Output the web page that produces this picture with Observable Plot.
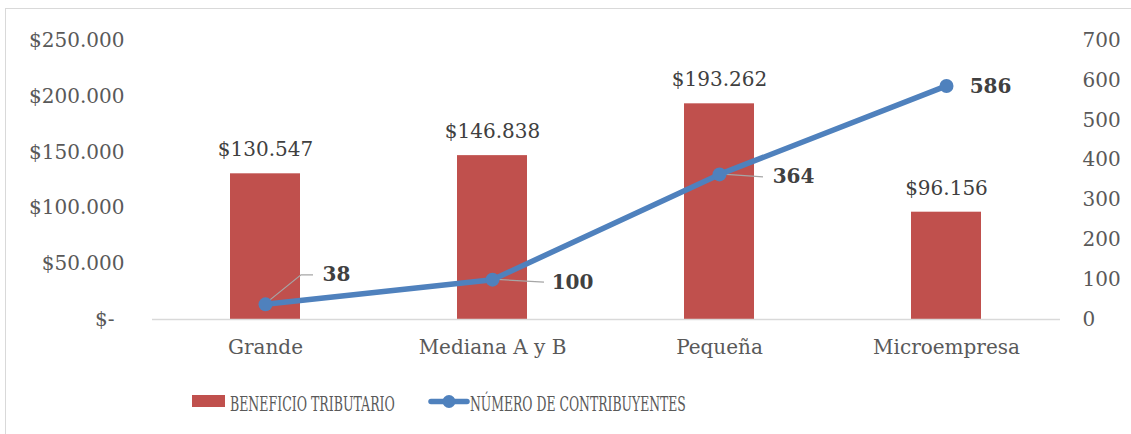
<!DOCTYPE html>
<html><head><meta charset="utf-8">
<script src="https://cdn.jsdelivr.net/npm/d3@7"></script>
<script src="https://cdn.jsdelivr.net/npm/@observablehq/plot@0.6"></script>
<style>
body{margin:0;background:#fff;font-family:"DejaVu Serif",serif;}
#wrap{position:relative;width:1131px;height:434px;overflow:hidden;background:#fff;}
#frame{position:absolute;left:5px;top:8px;width:1140px;height:440px;border:1.5px solid #d9d9d9;}
#chart{position:absolute;left:0;top:0;}
#legend{position:absolute;left:0;top:385px;}
</style></head><body>
<div id="wrap"><div id="frame"></div><div id="chart"></div><div id="legend"></div></div>
<script>
const categories = ["Grande", "Mediana A y B", "Pequeña", "Microempresa"];
const beneficio = [130547, 146838, 193262, 96156];
const contribuyentes = [38, 100, 364, 586];
const leftTicks = [0, 50000, 100000, 150000, 200000, 250000];
const rightTicks = [0, 100, 200, 300, 400, 500, 600, 700];
const seriesNames = ["BENEFICIO TRIBUTARIO", "NÚMERO DE CONTRIBUYENTES"];

const yMax = 250000, rMax = 700;
const toLeft = v => v * yMax / rMax;
const rows = categories.map((c, i) => ({cat: c, ben: beneficio[i], num: contribuyentes[i], numY: toLeft(contribuyentes[i])}));
const fmtMoney = v => v === 0 ? "$-\u2002" : "$" + d3.format(",")(v).replace(/,/g, ".");

const BAR = "#C0504D", LINE = "#4F81BD", LABEL = "#404040", AXIS = "#595959";

// label placement (pixel offsets from each point), styling only
const labelOffsets = [[71, -30], [80, 3], [74, 2], [44, 1]];
const leaderPaths = [[[36, -29], [48, -29]], [[52, 3]], [[44, 3]], []];

const leaderMark = (index, scales) => {
  const g = d3.create("svg:g");
  const sx = scales.x, sy = scales.y;
  const half = sx.bandwidth ? sx.bandwidth() / 2 : 0;
  rows.forEach((d, i) => {
    const px = sx(d.cat) + half, py = sy(d.numY);
    const pts = [[px, py], ...leaderPaths[i].map(([dx, dy]) => [px + dx, py + dy])];
    if (pts.length < 2) return;
    g.append("path").attr("d", d3.line()(pts)).attr("fill", "none")
      .attr("stroke", "#a6a6a6").attr("stroke-width", 1.2);
  });
  return g.node();
};

const lineLabels = rows.map((d, i) => Plot.text([d], {
  x: "cat", y: "numY", text: d => String(d.num),
  dx: labelOffsets[i][0], dy: labelOffsets[i][1],
  fill: LABEL, fontWeight: "bold", fontSize: 20
}));

const chart = Plot.plot({
  width: 1131, height: 370,
  marginLeft: 152, marginRight: 71, marginTop: 40, marginBottom: 51,
  style: {fontFamily: "'DejaVu Serif', serif", fontSize: "20px", color: AXIS, background: "transparent"},
  x: {domain: categories, paddingInner: 0.69, paddingOuter: 0.345, label: null},
  y: {domain: [0, yMax], label: null},
  marks: [
    Plot.barY(rows, {x: "cat", y: "ben", fill: BAR}),
    Plot.ruleY([0], {stroke: "#d9d9d9", strokeWidth: 1.5}),
    Plot.axisY(leftTicks, {anchor: "left", tickSize: 0, tickPadding: 28, tickFormat: fmtMoney, label: null}),
    Plot.axisY(rightTicks.map(toLeft), {anchor: "right", tickSize: 0, tickPadding: 22, tickFormat: d => String(Math.round(d * rMax / yMax)), label: null}),
    Plot.axisX({tickSize: 0, tickPadding: 20, label: null}),
    Plot.text(rows, {x: "cat", y: "ben", text: d => fmtMoney(d.ben), dy: -24, fill: LABEL, fontSize: 20}),
    leaderMark,
    Plot.line(rows, {x: "cat", y: "numY", stroke: LINE, strokeWidth: 5.5}),
    Plot.dot(rows, {x: "cat", y: "numY", r: 7, fill: LINE}),
    ...lineLabels
  ]
});
document.getElementById("chart").appendChild(chart);

// legend
const lg = d3.select("#legend").append("svg").attr("width", 1131).attr("height", 45);
function condensedText(x, y, target, str) {
  const t = lg.append("text").attr("x", 0).attr("y", 0).attr("fill", AXIS)
    .attr("font-family", "'DejaVu Serif', serif").attr("font-size", 21).text(str);
  const w = t.node().getComputedTextLength() || target;
  t.attr("transform", `translate(${x},${y}) scale(${target / w},1)`);
}
lg.append("rect").attr("x", 192).attr("y", 10).attr("width", 33).attr("height", 12).attr("fill", BAR);
condensedText(230, 25.5, 165, seriesNames[0]);
lg.append("line").attr("x1", 431).attr("x2", 467).attr("y1", 16.5).attr("y2", 16.5)
  .attr("stroke", LINE).attr("stroke-width", 5.5).attr("stroke-linecap", "round");
lg.append("circle").attr("cx", 449).attr("cy", 16.5).attr("r", 6.5).attr("fill", LINE);
condensedText(470, 25.5, 216, seriesNames[1]);
</script>
</body></html>
